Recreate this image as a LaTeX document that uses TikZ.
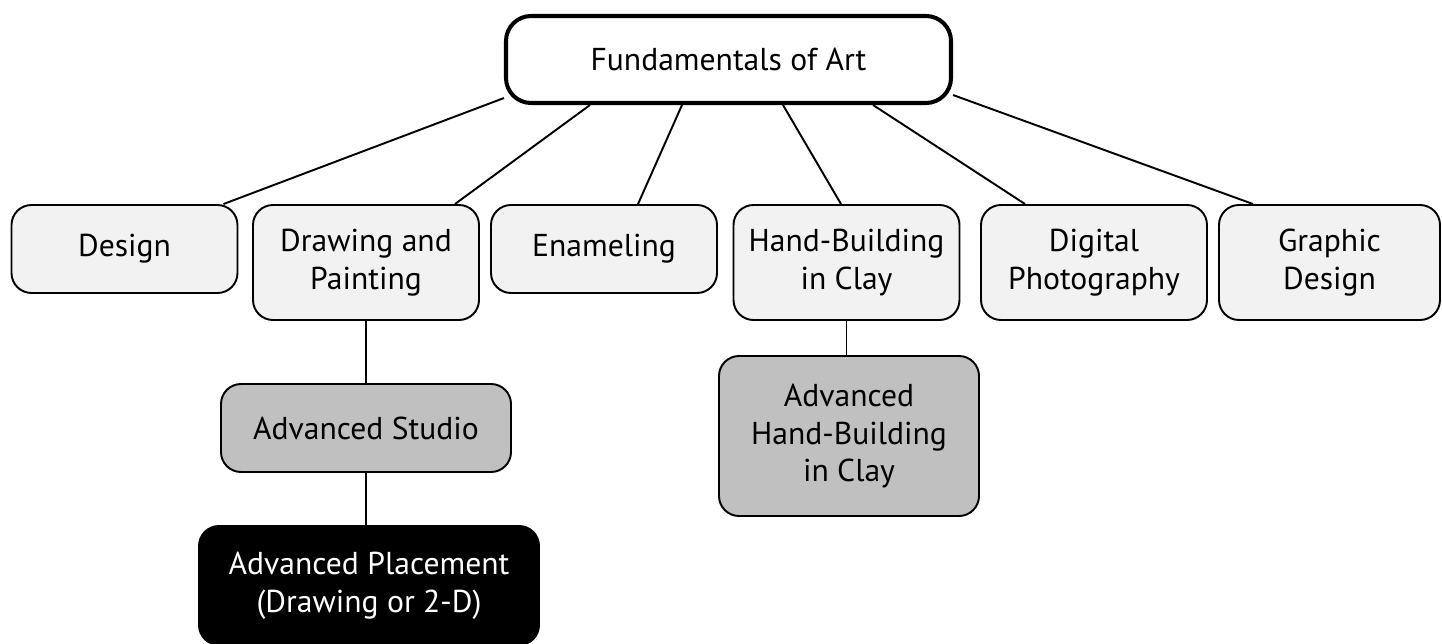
\documentclass[tikz,border=0pt]{standalone}
\usepackage{fontspec}
\setmainfont{PT Sans}
\usepackage{tikz}
\definecolor{coursegray}{HTML}{F2F2F2}
\definecolor{advgray}{HTML}{C0C0C0}

\begin{document}
\begin{tikzpicture}[
        box/.style = {draw=black, rounded corners=#1, line width=1.1pt, align=center,
            inner sep=2pt, font=\fontsize{18}{21.6}\selectfont},
        box/.default = 0.4cm,
        root/.style = {box=0.5cm, fill=white, line width=2.3pt, minimum width=8.9cm, minimum height=1.74cm},
        course/.style = {box, fill=coursegray, minimum width=4.52cm, minimum height=#1},
        course/.default = 1.76cm,
        advanced/.style = {box, fill=advgray, minimum height=1.76cm},
        placement/.style = {box, fill=black, text=white, minimum height=2.38cm},
        link/.style = {draw=black, line width=1.1pt},
    ]
    \useasboundingbox (0,0) rectangle (28.84,-12.88);
    % top course
    \node[root] (fund) at (14.57,-1.19) {Fundamentals of Art};
    % second row
    \node[course] (design) at (2.49,-4.98) {Design};
    \node[course=2.3cm] (drawing) at (7.32,-5.25) {Drawing and\\Painting};
    \node[course] (enamel) at (12.08,-4.98) {Enameling};
    \node[course=2.3cm] (handb) at (16.93,-5.25) {Hand-Building\\in Clay};
    \node[course=2.3cm] (digital) at (21.88,-5.25) {Digital\\Photography};
    \node[course=2.3cm, minimum width=4.42cm] (graphic) at (26.59,-5.25) {Graphic\\Design};
    % advanced courses
    \node[advanced, minimum width=5.8cm] (studio) at (7.32,-8.56) {Advanced Studio};
    \node[advanced, minimum width=5.2cm, minimum height=3.2cm] (advhb) at (16.98,-8.72) {Advanced\\Hand-Building\\in Clay};
    \node[placement, minimum width=6.8cm] (ap) at (7.38,-11.71) {Advanced Placement\\(Drawing or 2-D)};
    % connectors
    \draw[link] ([yshift=0.14cm]fund.south west) -- ([xshift=-0.3cm]design.north east);
    \draw[link] ([xshift=1.72cm]fund.south west) -- ([xshift=-0.5cm]drawing.north east);
    \draw[link] ([xshift=-0.93cm]fund.south) -- ([xshift=0.68cm]enamel.north);
    \draw[link] ([xshift=1.09cm]fund.south) -- ([xshift=-0.11cm]handb.north);
    \draw[link] ([xshift=-1.6cm]fund.south east) -- ([xshift=0.9cm]digital.north west);
    \draw[link] ([yshift=0.2cm]fund.south east) -- ([xshift=0.7cm]graphic.north west);
    \draw[link] (drawing.south) -- (studio.north);
    \draw[link] (studio.south) -- (studio.south |- ap.north);
    \draw[link] (handb.south) -- (handb.south |- advhb.north);
\end{tikzpicture}
\end{document}
